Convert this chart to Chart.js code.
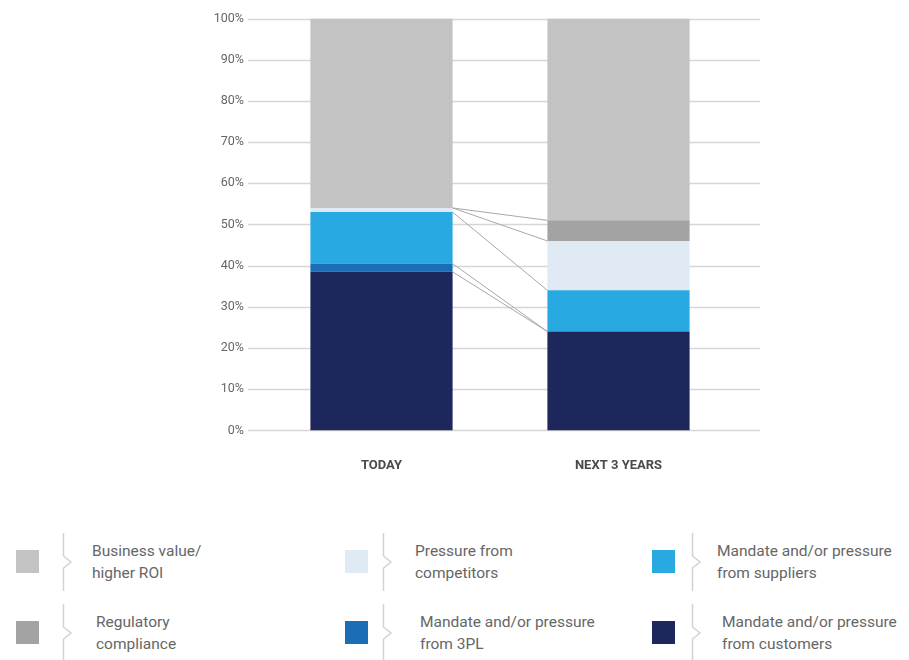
<!DOCTYPE html>
<html>
<head>
<meta charset="utf-8">
<script src="https://cdn.jsdelivr.net/npm/chart.js@4.4.1/dist/chart.umd.min.js"></script>
<style>
  body { margin: 0; background: #fff; font-family: Roboto, sans-serif; }
  #wrap { position: relative; width: 909px; height: 660px; overflow: hidden; }
  #chartBox { position: absolute; left: 0; top: 0; width: 909px; height: 502px; }
  .sw { position: absolute; width: 23px; height: 23px; }
  .br { position: absolute; }
  .txt { position: absolute; font-size: 15.5px; line-height: 21.5px; color: #666; white-space: nowrap; }
</style>
</head>
<body>
<div id="wrap">
  <div id="chartBox"><canvas id="myChart"></canvas></div>
  <div id="legend"></div>
</div>
<script>
const categories = ['TODAY', 'NEXT 3 YEARS'];
const customers = [38.5, 24];
const thirdParty = [2, 0];
const suppliers = [12.5, 10];
const competitors = [1, 12];
const regulatory = [0, 5];
const businessValue = [46, 49];
const yTicks = [0, 10, 20, 30, 40, 50, 60, 70, 80, 90, 100];

// stacked bottom to top
const series = [
  { label: ['Mandate and/or pressure', 'from customers'], data: customers, color: '#1d275c' },
  { label: ['Mandate and/or pressure', 'from 3PL'], data: thirdParty, color: '#1b6db5' },
  { label: ['Mandate and/or pressure', 'from suppliers'], data: suppliers, color: '#29a9e1' },
  { label: ['Pressure from', 'competitors'], data: competitors, color: '#dfeaf5' },
  { label: ['Regulatory', 'compliance'], data: regulatory, color: '#a3a3a3' },
  { label: ['Business value/', 'higher ROI'], data: businessValue, color: '#c3c3c3' }
];

// horizontal grid, a bit wider than the plot area
const gridPlugin = {
  id: 'wideGrid',
  beforeDatasetsDraw(chart) {
    const c = chart.ctx, a = chart.chartArea, y = chart.scales.y;
    c.save();
    c.strokeStyle = '#d6d6d6';
    c.lineWidth = 1.5;
    yTicks.forEach(t => {
      const py = Math.round(y.getPixelForValue(t)) + 0.5;
      c.beginPath();
      c.moveTo(a.left - 15, py);
      c.lineTo(a.right + 23, py);
      c.stroke();
    });
    c.restore();
  }
};

// series lines joining the top of each segment between the two bars
const seriesLines = {
  id: 'seriesLines',
  afterDatasetsDraw(chart) {
    const c = chart.ctx;
    c.save();
    c.strokeStyle = '#a8a8a8';
    c.lineWidth = 1;
    chart.data.datasets.forEach((ds, i) => {
      if (i === chart.data.datasets.length - 1) return; // top one sits on 100%
      const m = chart.getDatasetMeta(i);
      const b0 = m.data[0], b1 = m.data[1];
      c.beginPath();
      c.moveTo(b0.x + b0.width / 2, b0.y);
      c.lineTo(b1.x - b1.width / 2, b1.y);
      c.stroke();
    });
    c.restore();
  }
};

var ctx = document.getElementById('myChart').getContext('2d');
var myChart = new Chart(ctx, {
  type: 'bar',
  data: {
    labels: categories,
    datasets: series.map(s => ({
      label: s.label.join(' '),
      data: s.data,
      backgroundColor: s.color,
      borderWidth: 0,
      barPercentage: 0.6,
      categoryPercentage: 1
    }))
  },
  options: {
    responsive: true,
    maintainAspectRatio: false,
    animation: false,
    layout: { padding: { top: 6.5, right: 172, bottom: 8, left: 0 } },
    plugins: { legend: { display: false }, tooltip: { enabled: false } },
    scales: {
      x: {
        stacked: true,
        grid: { display: false },
        border: { display: false },
        ticks: {
          padding: 20,
          color: '#4a4a4a',
          font: { family: 'Roboto', size: 13, weight: 'bold' }
        }
      },
      y: {
        stacked: true,
        min: 0,
        max: 100,
        afterFit(scale) { scale.width = 263; },
        grid: { display: false },
        border: { display: false },
        ticks: {
          stepSize: 10,
          padding: 11,
          color: '#666',
          font: { family: 'Roboto', size: 12.5 },
          callback: v => v + '%'
        }
      }
    }
  },
  plugins: [gridPlugin, seriesLines]
});

// legend: three columns, two rows
const legendOrder = [5, 3, 2, 4, 1, 0];
const swX = [16, 345, 652];
const brX = [63, 383, 692];
const txX = [[92, 415, 717], [96, 420, 722]];
const rowTop = [530, 601];
const legend = document.getElementById('legend');
legendOrder.forEach((si, k) => {
  const s = series[si];
  const col = k % 3, row = Math.floor(k / 3);
  const t = rowTop[row];
  legend.insertAdjacentHTML('beforeend',
    '<div class="sw" style="left:' + swX[col] + 'px;top:' + (t + 20) + 'px;background:' + s.color + '"></div>' +
    '<svg class="br" width="12" height="58" style="left:' + (brX[col] - 1) + 'px;top:' + (t + 3) + 'px">' +
    '<path d="M1.5 0 L1.5 23 L9 29 L1.5 35 L1.5 58" fill="none" stroke="#d2d2d2" stroke-width="1.5"/></svg>' +
    '<div class="txt" style="left:' + txX[row][col] + 'px;top:' + (t + 11) + 'px">' + s.label[0] + '<br>' + s.label[1] + '</div>');
});
</script>
</body>
</html>
